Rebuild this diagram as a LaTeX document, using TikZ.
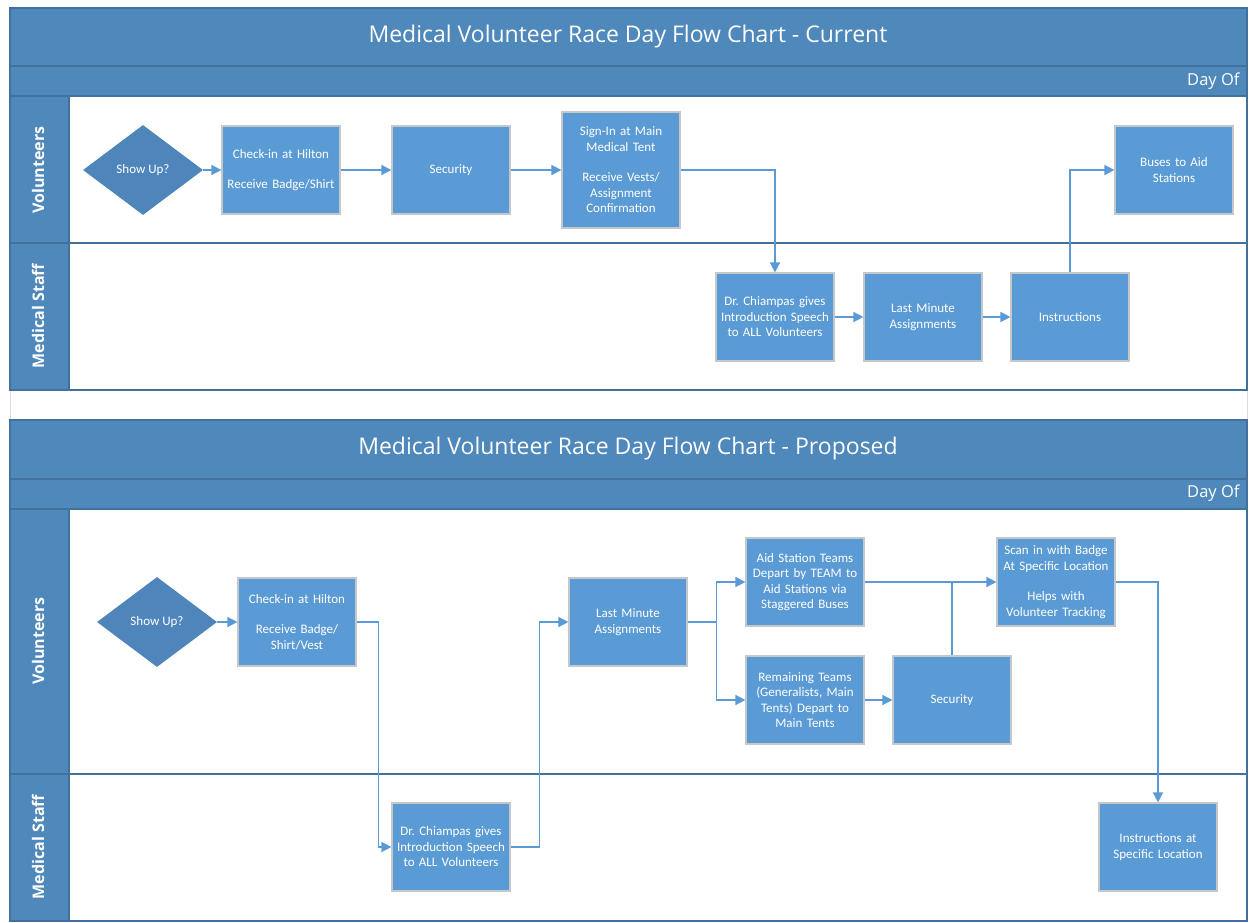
\documentclass[tikz,border=0pt]{standalone}
\usepackage{fontspec}
\setmainfont{Carlito}
\newfontfamily\titlefont{Open Sans}
\usetikzlibrary{arrows.meta,shapes.geometric}
\definecolor{band}{HTML}{4F88BB}
\definecolor{bandline}{HTML}{41719C}
\definecolor{boxfill}{HTML}{5B9BD5}
\definecolor{boxborder}{HTML}{C4C8CC}
\definecolor{diafill}{HTML}{4E86BC}
\definecolor{conn}{HTML}{5B9BD5}
\definecolor{sheet}{HTML}{DADDE0}
\frenchspacing
\begin{document}
\begin{tikzpicture}[x=1pt,y=-1pt,
  boxst/.style={rectangle, fill=boxfill, draw=boxborder, line width=1.2pt, text=white,
    align=center, font=\fontsize{13}{15.5}\selectfont, inner sep=1pt, text width=114pt,
    minimum width=118pt, minimum height=88pt},
  diast/.style={diamond, fill=diafill, draw=none, text=white, inner sep=0pt,
    font=\fontsize{13}{15.5}\selectfont, minimum width=120pt, minimum height=90pt},
  conn/.style={draw=conn, line width=1.5pt, -{Triangle[length=10pt,width=10pt]}},
  plain/.style={draw=conn, line width=1.5pt},
  titlest/.style={text=white, font=\titlefont\fontsize{23}{26}\selectfont},
  dayst/.style={text=white, font=\titlefont\fontsize{16.5}{19}\selectfont, anchor=east},
  lanest/.style={text=white, rotate=90, font=\titlefont\bfseries\fontsize{16}{19}\selectfont},
  frame/.style={draw=bandline, line width=1.5pt}
]
\useasboundingbox (0,0) rectangle (1254,922);
\fill[white] (0,0) rectangle (1254,922);
% sheet edges
\draw[sheet, line width=1pt] (10,390) -- (10,420);
\draw[sheet, line width=1pt] (1247,390) -- (1247,420);

% ---------- top chart ----------
\fill[band] (10,8) rectangle (1247,96);
\fill[band] (10,96) rectangle (69,390);
\draw[frame] (10,66) -- (1247,66);
\draw[frame] (10,96) -- (1247,96);
\draw[frame] (69,96) -- (69,390);
\draw[frame] (10,243) -- (1247,243);
\draw[frame] (10,8) rectangle (1247,390);
\node[titlest] (ttitle) at (628,37) {Medical Volunteer Race Day Flow Chart - Current};
\node[dayst] (tday) at (1243,81) {Day Of};
\node[lanest] (tlv) at (38,170) {Volunteers};
\node[lanest] (tlm) at (38,316) {Medical Staff};

\node[diast] (t0) at (143,170) {Show Up?};
\node[boxst] (t1) at (281,170) {Check-in at Hilton\\[15pt]Receive Badge/Shirt};
\node[boxst] (t2) at (451,170) {Security};
\node[boxst, minimum height=116pt] (t3) at (621,170) {Sign-In at Main\\Medical Tent\\[15pt]Receive Vests/\\Assignment\\Confirmation};
\node[boxst] (t4) at (775,317) {Dr. Chiampas gives\\Introduction Speech\\to ALL Volunteers};
\node[boxst] (t5) at (923,317) {Last Minute\\Assignments};
\node[boxst] (t6) at (1070,317) {Instructions};
\node[boxst] (t7) at (1174,170) {Buses to Aid\\Stations};

\draw[conn] (t0.east) -- (t1.west);
\draw[conn] (t1.east) -- (t2.west);
\draw[conn] (t2.east) -- (t3.west);
\draw[conn] (t3.east) -| (t4.north);
\draw[conn] (t4.east) -- (t5.west);
\draw[conn] (t5.east) -- (t6.west);
\draw[conn] (t6.north) |- (t7.west);

% ---------- bottom chart ----------
\fill[band] (10,420) rectangle (1247,509);
\fill[band] (10,509) rectangle (69,921);
\draw[frame] (10,479) -- (1247,479);
\draw[frame] (10,509) -- (1247,509);
\draw[frame] (69,509) -- (69,921);
\draw[frame] (10,774) -- (1247,774);
\draw[frame] (10,420) rectangle (1247,921);
\node[titlest] (btitle) at (628,449) {Medical Volunteer Race Day Flow Chart - Proposed};
\node[dayst] (bday) at (1243,493) {Day Of};
\node[lanest] (blv) at (38,641) {Volunteers};
\node[lanest] (blm) at (38,847) {Medical Staff};

\node[diast] (b0) at (157,622) {Show Up?};
\node[boxst] (b1) at (297,622) {Check-in at Hilton\\[15pt]Receive Badge/\\Shirt/Vest};
\node[boxst] (b2) at (451,847) {Dr. Chiampas gives\\Introduction Speech\\to ALL Volunteers};
\node[boxst] (b3) at (628,622) {Last Minute\\Assignments};
\node[boxst] (b4) at (805,582) {Aid Station Teams\\Depart by TEAM to\\Aid Stations via\\Staggered Buses};
\node[boxst] (b5) at (805,700) {Remaining Teams\\(Generalists, Main\\Tents) Depart to\\Main Tents};
\node[boxst] (b6) at (952,700) {Security};
\node[boxst] (b7) at (1056,582) {Scan in with Badge\\At Specific Location\\[15pt]Helps with\\Volunteer Tracking};
\node[boxst] (b8) at (1158,847) {Instructions at\\Specific Location};

\draw[conn] (b0.east) -- (b1.west);
\draw[conn] (b1.east) -- ([xshift=22pt]b1.east) |- (b2.west);
\draw[conn] (b2.east) -- ([xshift=29pt]b2.east) |- (b3.west);
\draw[conn] (b3.east) -- ([xshift=29pt]b3.east) |- (b4.west);
\draw[conn] (b3.east) -- ([xshift=29pt]b3.east) |- (b5.west);
\draw[conn] (b5.east) -- (b6.west);
\draw[conn] (b4.east) -- (b7.west);
\draw[plain] (b6.north) -- (b6.north |- b4.east);
\draw[conn] (b7.east) -| (b8.north);
\end{tikzpicture}
\end{document}
